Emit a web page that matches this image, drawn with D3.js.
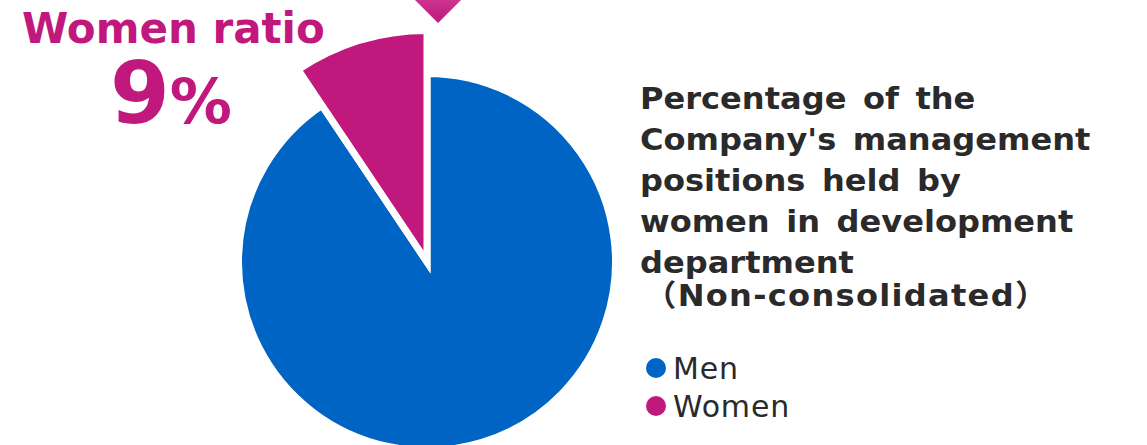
<!DOCTYPE html>
<html>
<head>
<meta charset="utf-8">
<script src="https://cdn.jsdelivr.net/npm/d3@7"></script>
<style>
  html, body { margin: 0; padding: 0; background: #fff; }
  svg text { font-family: "DejaVu Sans", Verdana, "Noto Sans CJK JP", sans-serif; }
</style>
</head>
<body>
<div id="container"></div>
<script>
// chart data
const categories = ["Men", "Women"];
const values = [90.6, 9.4];
const colors = ["#0064c4", "#c1187d"];
const ratioLabel = "Women ratio";
const ratioValue = "9";
const titleLines = [
    "Percentage of the",
    "Company's management",
    "positions held by",
    "women in development",
    "department",
    "（Non-consolidated）"
];

const WIDTH = 1147;
const HEIGHT = 445;
const CX = 427;
const CY = 262;

const svg = d3.select("#container")
    .append("svg")
    .attr("width", WIDTH)
    .attr("height", HEIGHT);

const defs = svg.append("defs");
const grad = defs.append("linearGradient")
    .attr("id", "tri")
    .attr("x1", 0).attr("y1", 0).attr("x2", 0).attr("y2", 1);
grad.append("stop").attr("offset", "0%").attr("stop-color", "#d64fa0");
grad.append("stop").attr("offset", "100%").attr("stop-color", "#c1187d");

const data = categories.map((c, i) => ({ name: c, value: values[i], color: colors[i] }));

const pie = d3.pie().sort(null).value(d => d.value);

// women slice sticks out further than the rest
const arc = d3.arc()
    .innerRadius(0)
    .outerRadius(d => d.data.name === "Women" ? 231.5 : 188.5);

svg.append("g")
    .attr("transform", "translate(" + CX + "," + CY + ")")
    .selectAll("path")
    .data(pie(data))
    .enter()
    .append("path")
    .attr("d", arc)
    .attr("fill", d => d.data.color)
    .attr("stroke", "#fff")
    .attr("stroke-width", 7)
    .attr("stroke-linejoin", "miter")
    .attr("stroke-miterlimit", 20);

// little pointer at the top
svg.append("path")
    .attr("d", "M415,0 L438,23 L461,0 L438,-23 Z")
    .attr("fill", "url(#tri)");

// ratio label
svg.append("text")
    .attr("x", 22)
    .attr("y", 43)
    .attr("font-size", 42)
    .attr("font-weight", "bold")
    .attr("fill", colors[1])
    .text(ratioLabel);

const big = svg.append("text")
    .attr("x", 110)
    .attr("y", 123)
    .attr("font-weight", "bold")
    .attr("fill", colors[1]);
big.append("tspan").attr("font-size", 86).text(ratioValue);
big.append("tspan").attr("font-size", 62).attr("dx", 0).text("%");

// title (stretched a little, the original font is wider)
const titleY = [109, 150, 191, 232, 273, 306];
svg.append("g")
    .attr("transform", "translate(640,0) scale(1.07,1)")
    .selectAll("text")
    .data(titleLines)
    .enter()
    .append("text")
    .attr("x", (d, i) => i === 5 ? 4 : 0)
    .attr("y", (d, i) => titleY[i])
    .attr("font-size", 30)
    .attr("font-weight", "bold")
    .attr("letter-spacing", (d, i) => i === 5 ? 1.2 : 0)
    .attr("word-spacing", 5)
    .attr("fill", "#2a2a2a")
    .text(d => d);

// legend
const legend = svg.append("g")
    .selectAll("g")
    .data(data)
    .enter()
    .append("g")
    .attr("transform", (d, i) => "translate(656," + (368 + i * 38) + ")");

legend.append("circle")
    .attr("r", 10)
    .attr("fill", d => d.color);

legend.append("text")
    .attr("x", 17)
    .attr("y", 11)
    .attr("font-size", 30)
    .attr("letter-spacing", 0.8)
    .attr("fill", "#2a2a2a")
    .text(d => d.name);
</script>
</body>
</html>
